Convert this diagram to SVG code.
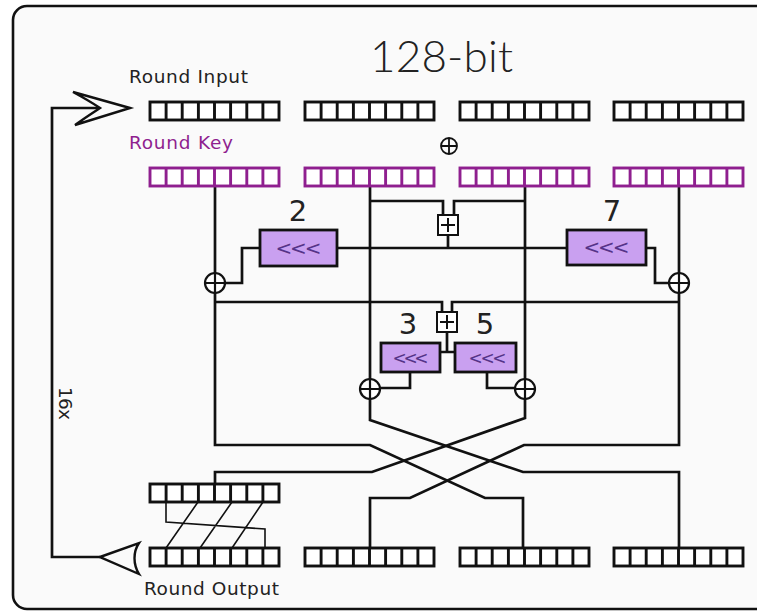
<svg xmlns="http://www.w3.org/2000/svg" xmlns:xlink="http://www.w3.org/1999/xlink" width="757" height="612" viewBox="0 0 757 612">
<style>
.cells rect,.cells path{fill:#fff;stroke-width:2.9}
.cells path{fill:none}
.blk{stroke:#111}
.key{stroke:#8f1f8f}
.lbl{font-family:"DejaVu Sans","Liberation Sans",sans-serif;font-size:18.5px;fill:#222}
.num{font-family:"DejaVu Sans","Liberation Sans",sans-serif;font-size:29px;fill:#222;text-anchor:middle}
.rot{fill:#c9a0f0;stroke:#111;stroke-width:2.8}
.rt{font-family:"DejaVu Sans","Liberation Sans",sans-serif;font-size:20px;fill:#553388;text-anchor:middle}
.wire{fill:none;stroke:#111;stroke-width:2.7;stroke-linejoin:miter}
.thin{fill:none;stroke:#111;stroke-width:1.6}
</style>
<defs>
<g id="blk8" class="cells"><rect x="0" y="0" width="129" height="18"/><path d="M16.1,0v18M32.2,0v18M48.4,0v18M64.5,0v18M80.6,0v18M96.8,0v18M112.9,0v18"/></g>
<g id="xor"><circle r="10" fill="#fff" stroke="#111" stroke-width="2.2"/><path d="M-10,0H10M0,-10V10" stroke="#111" stroke-width="2.2"/></g>
<g id="add"><rect x="-10" y="-10" width="20" height="20" fill="#fff" stroke="#111" stroke-width="2"/><path d="M-7,0H7M0,-7V7" stroke="#111" stroke-width="2"/></g>
</defs>
<rect width="757" height="612" fill="#fff"/>
<rect id="frame" x="13" y="6" width="770" height="603" rx="14" fill="#fafafa" stroke="#111" stroke-width="2.6"/>

<g id="connectors">
<path class="wire" d="M100,557H52V108H98"/>
<path class="wire" d="M215,186V445H370L485,498H523V548"/>
<path class="wire" d="M679,186V445H524L410,498H370V548"/>
<path class="wire" d="M370,186V420L523,472H679V548"/>
<path class="wire" d="M525,186V418L372,472H215V484"/>
<path class="wire" d="M370,201H443V215M525,201H454V215"/>
<path class="wire" d="M448,235V248M337,248H567"/>
<path class="wire" d="M260,248H242V283H215"/>
<path class="wire" d="M646,248H655V283H679"/>
<path class="wire" d="M215,302H442V313M679,302H452V313"/>
<path class="wire" d="M447,332V352M440,352H455"/>
<path class="wire" d="M410,372V388H370M487,372V388H525"/>
<path class="thin" d="M166,502V522L265,529V548M198,502L166,548M232,502L200,548M263,502L232,548"/>
<path id="arrow-in" d="M130,108L73,92C86,99 94,104 100,108C94,112 86,117 75,125Z" fill="#fafafa" stroke="#111" stroke-width="2.4" stroke-linejoin="miter"/>
<path id="arrow-out" d="M100,557L139,543C133,552 133,564 139,574Z" fill="#fafafa" stroke="#111" stroke-width="2.4"/>
</g>

<g id="title"><text x="370" y="72" font-family="Lato,'Open Sans',sans-serif" font-weight="300" font-size="44" fill="#222" textLength="143" lengthAdjust="spacing">128-bit</text></g>
<g id="label-input"><text class="lbl" x="129" y="83" textLength="119" lengthAdjust="spacing">Round Input</text></g>
<g id="label-key"><text class="lbl" x="129" y="149" style="fill:#8f1f8f" textLength="104" lengthAdjust="spacing">Round Key</text></g>
<g id="label-output"><text class="lbl" x="144" y="595" textLength="135" lengthAdjust="spacing">Round Output</text></g>
<g id="label-16x"><text class="lbl" x="59" y="387" transform="rotate(90 59 387)" textLength="33" lengthAdjust="spacing">16x</text></g>

<g id="input-row">
<use xlink:href="#blk8" href="#blk8" class="blk" x="150" y="102"/>
<use xlink:href="#blk8" href="#blk8" class="blk" x="305" y="102"/>
<use xlink:href="#blk8" href="#blk8" class="blk" x="460" y="102"/>
<use xlink:href="#blk8" href="#blk8" class="blk" x="614" y="102"/>
</g>
<g id="xor-key"><circle cx="449" cy="146" r="8" fill="#fafafa" stroke="#111" stroke-width="1.8"/><path d="M441,146H457M449,138V154" stroke="#111" stroke-width="1.8"/></g>
<g id="key-row">
<use xlink:href="#blk8" href="#blk8" class="key" x="150" y="168"/>
<use xlink:href="#blk8" href="#blk8" class="key" x="305" y="168"/>
<use xlink:href="#blk8" href="#blk8" class="key" x="460" y="168"/>
<use xlink:href="#blk8" href="#blk8" class="key" x="614" y="168"/>
</g>

<g id="add-top"><use xlink:href="#add" href="#add" x="448" y="225"/></g>
<g id="add-mid"><use xlink:href="#add" href="#add" x="447" y="322"/></g>

<g id="rot2"><rect class="rot" x="260" y="230" width="77" height="36"/><text class="rt" x="298.5" y="255" textLength="46" lengthAdjust="spacing">&lt;&lt;&lt;</text><text class="num" x="298" y="221">2</text></g>
<g id="rot7"><rect class="rot" x="567" y="230" width="79" height="35"/><text class="rt" x="606.5" y="254" textLength="46" lengthAdjust="spacing">&lt;&lt;&lt;</text><text class="num" x="612" y="221">7</text></g>
<g id="rot3"><rect class="rot" x="381" y="343" width="59" height="29"/><text class="rt" x="410.5" y="364" style="font-size:17px" textLength="36" lengthAdjust="spacing">&lt;&lt;&lt;</text><text class="num" x="408" y="334">3</text></g>
<g id="rot5"><rect class="rot" x="455" y="343" width="61" height="29"/><text class="rt" x="487.5" y="364" style="font-size:17px" textLength="38" lengthAdjust="spacing">&lt;&lt;&lt;</text><text class="num" x="485" y="334">5</text></g>

<g id="xor-left"><use xlink:href="#xor" href="#xor" x="215" y="283"/></g>
<g id="xor-right"><use xlink:href="#xor" href="#xor" x="679" y="283"/></g>
<g id="xor-b1"><use xlink:href="#xor" href="#xor" x="370" y="389"/></g>
<g id="xor-b2"><use xlink:href="#xor" href="#xor" x="525" y="389"/></g>

<g id="perm-row"><use xlink:href="#blk8" href="#blk8" class="blk" x="150" y="484"/></g>
<g id="output-row">
<use xlink:href="#blk8" href="#blk8" class="blk" x="150" y="548"/>
<use xlink:href="#blk8" href="#blk8" class="blk" x="305" y="548"/>
<use xlink:href="#blk8" href="#blk8" class="blk" x="460" y="548"/>
<use xlink:href="#blk8" href="#blk8" class="blk" x="614" y="548"/>
</g>
</svg>
